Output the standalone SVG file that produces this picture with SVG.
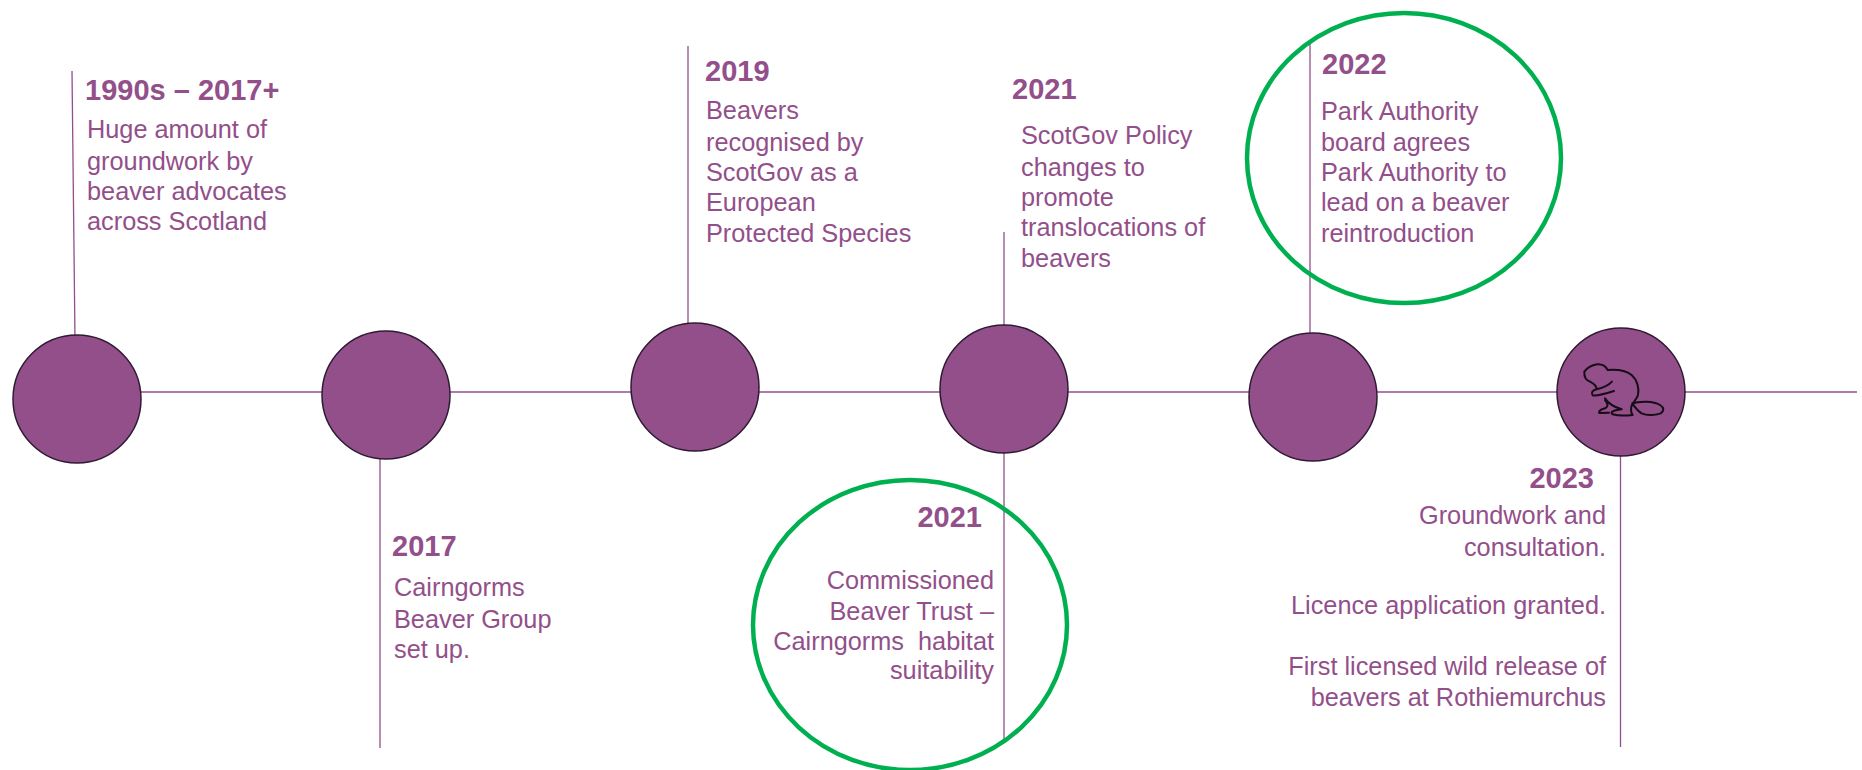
<svg xmlns="http://www.w3.org/2000/svg" width="1862" height="770" viewBox="0 0 1862 770">
<style>
text{font-family:"Liberation Sans",Arial,sans-serif;fill:#934f8a}
.h{font-size:29px;font-weight:700}
.b{font-size:25.3px}
.e{text-anchor:end}
.c{fill:#934f8a;stroke:#2e1a33;stroke-width:1.5}
.l{stroke:#934f8a;stroke-width:1.3;fill:none}
.o{fill:none;stroke:#00b050;stroke-width:4.5}
</style>
<rect width="1862" height="770" fill="#fff"/>
<g id="connectors">
<path class="l" d="M130 392H1857"/>
<path class="l" d="M72 71L75 340"/>
<path class="l" d="M380 450V748"/>
<path class="l" d="M688 46V330"/>
<path class="l" d="M1004 232V330"/>
<path class="l" d="M1004 450V740"/>
<path class="l" d="M1310 44V340"/>
<path class="l" d="M1620.5 455V747"/>
</g>
<g id="node-1"><circle class="c" cx="77" cy="399" r="64"/>
<text class="h" x="85" y="100">1990s – 2017+</text>
<text class="b"><tspan x="87" y="138">Huge amount of</tspan><tspan x="87" y="170">groundwork by</tspan><tspan x="87" y="200">beaver advocates</tspan><tspan x="87" y="230">across Scotland</tspan></text></g>
<g id="node-2"><circle class="c" cx="386" cy="395" r="64"/>
<text class="h" x="392" y="556">2017</text>
<text class="b"><tspan x="394" y="596">Cairngorms</tspan><tspan x="394" y="628">Beaver Group</tspan><tspan x="394" y="658">set up.</tspan></text></g>
<g id="node-3"><circle class="c" cx="695" cy="387" r="64"/>
<text class="h" x="705" y="81">2019</text>
<text class="b"><tspan x="706" y="119">Beavers</tspan><tspan x="706" y="151">recognised by</tspan><tspan x="706" y="181">ScotGov as a</tspan><tspan x="706" y="211">European</tspan><tspan x="706" y="242">Protected Species</tspan></text></g>
<g id="node-4"><circle class="c" cx="1004" cy="389" r="64"/>
<text class="h" x="1012" y="99">2021</text>
<text class="b"><tspan x="1021" y="144">ScotGov Policy</tspan><tspan x="1021" y="176">changes to</tspan><tspan x="1021" y="206">promote</tspan><tspan x="1021" y="236">translocations of</tspan><tspan x="1021" y="267">beavers</tspan></text></g>
<g id="node-5"><ellipse class="o" cx="910" cy="625" rx="157" ry="145"/>
<text class="h e" x="982" y="527">2021</text>
<text class="b e"><tspan x="994" y="589">Commissioned</tspan><tspan x="994" y="620">Beaver Trust –</tspan><tspan x="994" y="650">Cairngorms&#160; habitat</tspan><tspan x="994" y="679">suitability</tspan></text></g>
<g id="node-6"><circle class="c" cx="1313" cy="397" r="64"/>
<ellipse class="o" cx="1404" cy="158" rx="157" ry="145"/>
<text class="h" x="1322" y="74">2022</text>
<text class="b"><tspan x="1321" y="120">Park Authority</tspan><tspan x="1321" y="151">board agrees</tspan><tspan x="1321" y="181">Park Authority to</tspan><tspan x="1321" y="211">lead on a beaver</tspan><tspan x="1321" y="242">reintroduction</tspan></text></g>
<g id="node-7"><circle class="c" cx="1621" cy="392" r="64"/>
<path transform="translate(1540 320) scale(.3333)" d="M150 185C140 182 132 175 133 155C140 145 155 136 172 133C190 132 198 140 203 150C225 148 255 150 275 165C292 180 298 205 294 225C290 240 278 245 274 260C272 272 274 280 278 285C260 287 232 287 218 283C210 278 215 272 245 268C225 262 205 250 195 235M150 185C160 190 170 198 170 208M216 185C205 197 190 203 170 208C158 210 152 218 158 226C170 229 200 220 222 213M195 240C202 250 208 258 195 265C185 268 175 272 178 279L207 278M277 250C300 243 340 243 360 255C373 263 373 272 362 280C345 286 320 287 305 280C292 272 285 262 277 250" fill="none" stroke="#160c16" stroke-width="6" stroke-linejoin="round" stroke-linecap="round"/>
<text class="h e" x="1594" y="488">2023</text>
<text class="b e"><tspan x="1606" y="524">Groundwork and</tspan><tspan x="1606" y="556">consultation.</tspan><tspan x="1606" y="614">Licence application granted.</tspan><tspan x="1606" y="675">First licensed wild release of</tspan><tspan x="1606" y="706">beavers at Rothiemurchus</tspan></text></g>
</svg>
